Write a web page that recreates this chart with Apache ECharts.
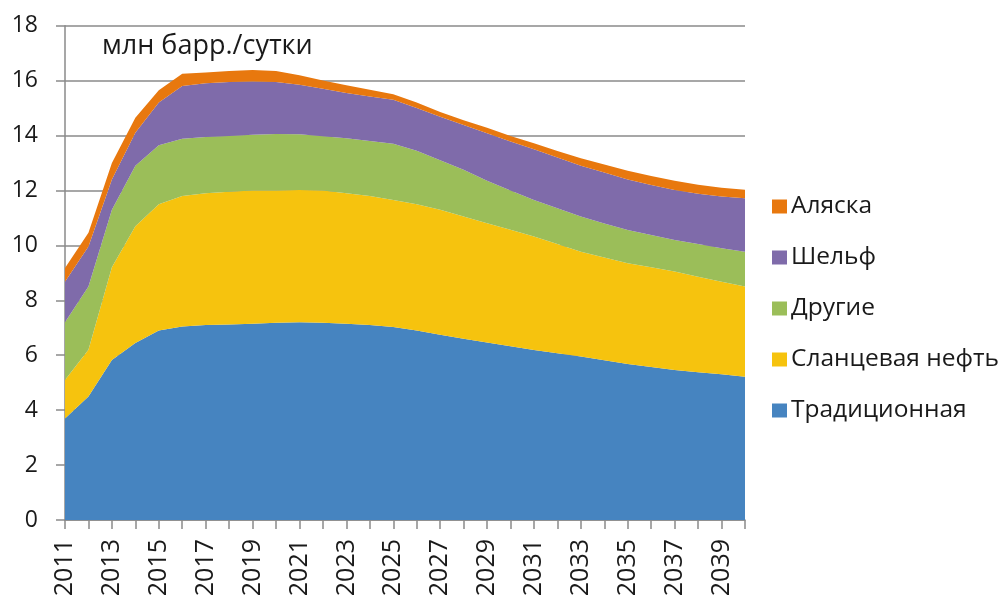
<!DOCTYPE html>
<html>
<head>
    <meta charset="utf-8">
    <title>Добыча нефти</title>
    <script src="https://cdn.jsdelivr.net/npm/echarts@6/dist/echarts.min.js"></script>
    <style>
        html, body {
            margin: 0;
            padding: 0;
            width: 100%;
            height: 100%;
            overflow: hidden;
            background: #fff;
        }
        #chart {
            width: 1001px;
            height: 596px;
        }
    </style>
</head>
<body>
<div id="chart"></div>
<script type="text/javascript">
    var years = ['2011', '2012', '2013', '2014', '2015', '2016', '2017', '2018', '2019', '2020',
        '2021', '2022', '2023', '2024', '2025', '2026', '2027', '2028', '2029', '2030',
        '2031', '2032', '2033', '2034', '2035', '2036', '2037', '2038', '2039', '2040'];

    // млн барр./сутки, по слоям (не накопленные)
    var traditional = [3.7, 4.5, 5.83, 6.45, 6.9, 7.05, 7.1, 7.12, 7.15, 7.18,
        7.2, 7.18, 7.15, 7.1, 7.03, 6.9, 6.75, 6.6, 6.46, 6.33,
        6.19, 6.07, 5.95, 5.82, 5.68, 5.57, 5.46, 5.38, 5.31, 5.22];
    var shale = [1.4, 1.7, 3.37, 4.25, 4.6, 4.75, 4.8, 4.83, 4.85, 4.82,
        4.82, 4.82, 4.75, 4.7, 4.62, 4.6, 4.55, 4.45, 4.35, 4.24,
        4.13, 3.98, 3.82, 3.74, 3.67, 3.63, 3.59, 3.48, 3.37, 3.28];
    var other = [2.1, 2.3, 2.1, 2.2, 2.15, 2.08, 2.05, 2.03, 2.03, 2.06,
        2.03, 1.97, 2.0, 2.0, 2.05, 1.95, 1.8, 1.7, 1.54, 1.43,
        1.33, 1.3, 1.28, 1.24, 1.21, 1.18, 1.15, 1.19, 1.22, 1.27];
    var shelf = [1.48, 1.46, 1.1, 1.2, 1.55, 1.92, 1.95, 1.97, 1.94, 1.89,
        1.8, 1.73, 1.65, 1.62, 1.6, 1.55, 1.58, 1.63, 1.73, 1.78,
        1.85, 1.85, 1.85, 1.85, 1.84, 1.82, 1.82, 1.83, 1.88, 1.95];
    var alaska = [0.5, 0.5, 0.6, 0.55, 0.45, 0.45, 0.4, 0.4, 0.42, 0.4,
        0.35, 0.3, 0.28, 0.25, 0.2, 0.2, 0.18, 0.18, 0.2, 0.2,
        0.22, 0.24, 0.27, 0.3, 0.32, 0.33, 0.33, 0.33, 0.32, 0.31];

    var names = ['Традиционная', 'Сланцевая нефть', 'Другие', 'Шельф', 'Аляска'];
    var colors = ['#4684c0', '#f6c30e', '#9bbe59', '#7f6baa', '#e8780e'];
    var font = '"Open Sans", "DejaVu Sans", sans-serif';

    function area(name, data, color) {
        return {
            name: name,
            type: 'line',
            stack: 'total',
            data: data,
            symbol: 'none',
            lineStyle: {width: 0},
            areaStyle: {color: color, opacity: 1},
            itemStyle: {color: color},
            emphasis: {disabled: true}
        };
    }

    var myChart = echarts.init(document.getElementById('chart'));
    var option = {
        animation: false,
        textStyle: {fontFamily: font},
        title: {
            text: 'млн барр./сутки',
            left: 97,
            top: 28,
            textStyle: {fontFamily: font, fontSize: 27, fontWeight: 'normal', color: '#1a1a1a'}
        },
        legend: {
            orient: 'vertical',
            left: 767,
            top: 189,
            icon: 'rect',
            itemWidth: 15,
            itemHeight: 14,
            itemGap: 26,
            data: ['Аляска', 'Шельф', 'Другие', 'Сланцевая нефть', 'Традиционная'],
            textStyle: {fontFamily: font, fontSize: 24.5, color: '#1a1a1a', padding: [0, 0, 0, -1]}
        },
        grid: {
            left: 65,
            right: 256,
            top: 25.7,
            bottom: 76,
            containLabel: false,
            outerBoundsMode: 'none'
        },
        xAxis: {
            type: 'category',
            data: years,
            boundaryGap: false,
            axisLine: {lineStyle: {color: '#8a8a8a', width: 1.5}},
            axisTick: {show: true, interval: 0, length: 9, lineStyle: {color: '#8a8a8a', width: 1.5}},
            axisLabel: {
                interval: 1,
                rotate: 90,
                margin: 19,
                fontSize: 25,
                color: '#1a1a1a',
                fontFamily: font
            }
        },
        yAxis: {
            type: 'value',
            min: 0,
            max: 18,
            interval: 2,
            axisLine: {show: true, lineStyle: {color: '#8a8a8a', width: 1.5}},
            axisTick: {show: true, length: 9, lineStyle: {color: '#8a8a8a', width: 1.5}},
            splitLine: {lineStyle: {color: '#8a8a8a', width: 1.5}},
            axisLabel: {fontSize: 23, color: '#1a1a1a', margin: 27, fontFamily: font}
        },
        series: [
            area(names[0], traditional, colors[0]),
            area(names[1], shale, colors[1]),
            area(names[2], other, colors[2]),
            area(names[3], shelf, colors[3]),
            area(names[4], alaska, colors[4])
        ]
    };
    myChart.setOption(option);
</script>
</body>
</html>
